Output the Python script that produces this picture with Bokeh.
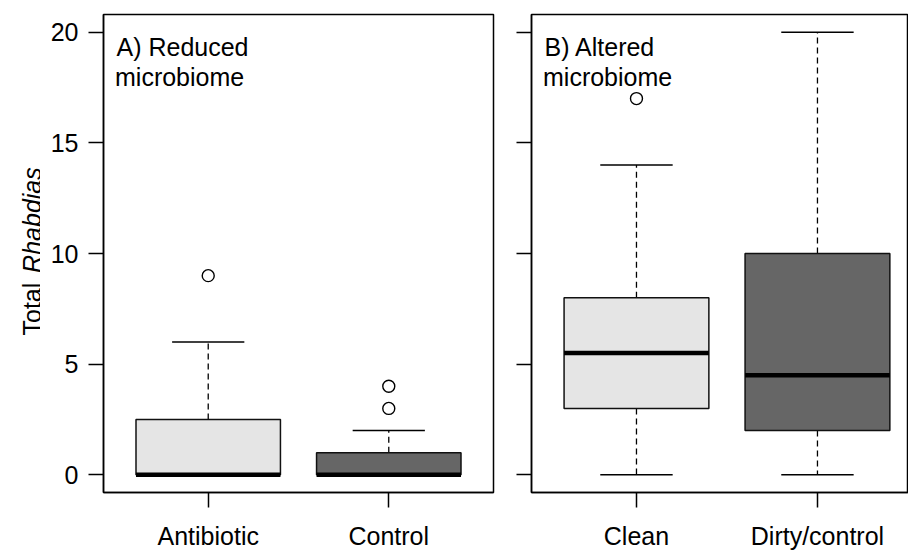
import math
from bokeh.plotting import figure
from bokeh.models import Label, FixedTicker, Range1d
from bokeh.layouts import row
from bokeh.embed import file_html
from bokeh.resources import INLINE

# ---------------- data ----------------
groups_a = ["Antibiotic", "Control"]
lower_a = [0, 0]
q1_a = [0, 0]
median_a = [0, 0]
q3_a = [2.5, 1]
upper_a = [6, 2]
outliers_a = [[9], [3, 4]]

groups_b = ["Clean", "Dirty/control"]
lower_b = [0, 0]
q1_b = [3, 2]
median_b = [5.5, 4.5]
q3_b = [8, 10]
upper_b = [14, 20]
outliers_b = [[17], []]

title_a = ["A) Reduced", "microbiome"]
title_b = ["B) Altered", "microbiome"]
y_ticks = [0, 5, 10, 15, 20]
y_title = ["Total", "Rhabdias"]
fill_colors = ["#E5E5E5", "#666666"]

FONT = "Liberation Sans"
FS = "25px"
H = 552
TOP = 14
BOTTOM = 57
Y0, Y1 = -0.8, 20.8
X0 = 0.42


def make_panel(groups, lower, q1, med, q3, upper, outs, title, width, x_end,
               b_left, b_right, show_ylabels):
    p = figure(width=width, height=H, x_range=Range1d(X0, x_end),
               y_range=Range1d(Y0, Y1), output_backend="svg",
               toolbar_location=None, min_border_left=b_left,
               min_border_right=b_right, min_border_top=TOP,
               min_border_bottom=BOTTOM)
    p.xgrid.visible = False
    p.ygrid.visible = False
    p.outline_line_color = "black"
    p.outline_line_width = 1.5
    p.outline_line_alpha = 1.0
    p.background_fill_color = "white"
    p.border_fill_color = "white"

    frame_w = width - b_left - b_right
    frame_h = H - TOP - BOTTOM

    def x_of(px):
        return X0 + px / frame_w * (x_end - X0)

    def y_of(py):
        return Y1 - py / frame_h * (Y1 - Y0)

    xs = [i + 1 for i in range(len(groups))]

    # whiskers
    p.segment(x0=xs, y0=q3, x1=xs, y1=upper, line_color="black",
              line_width=1.3, line_dash="6 4")
    p.segment(x0=xs, y0=q1, x1=xs, y1=lower, line_color="black",
              line_width=1.3, line_dash="6 4")
    # caps
    p.segment(x0=[x - 0.2 for x in xs], y0=upper, x1=[x + 0.2 for x in xs],
              y1=upper, line_color="black", line_width=1.5)
    p.segment(x0=[x - 0.2 for x in xs], y0=lower, x1=[x + 0.2 for x in xs],
              y1=lower, line_color="black", line_width=1.5)
    # boxes
    p.quad(left=[x - 0.4 for x in xs], right=[x + 0.4 for x in xs],
           bottom=q1, top=q3, fill_color=fill_colors, line_color="#111111",
           line_width=1.5)
    # medians
    p.segment(x0=[x - 0.4 for x in xs], y0=med, x1=[x + 0.4 for x in xs],
              y1=med, line_color="black", line_width=4.5, line_cap="butt")
    # outliers
    ox, oy = [], []
    for x, vals in zip(xs, outs):
        for v in vals:
            ox.append(x)
            oy.append(v)
    if ox:
        p.scatter(x=ox, y=oy, marker="circle", size=12, fill_alpha=0,
                  line_color="black", line_width=1.4)

    # x axis with category names
    p.xaxis.ticker = FixedTicker(ticks=xs)
    p.xaxis.major_label_overrides = {x: g for x, g in zip(xs, groups)}
    p.xaxis.major_tick_out = 15
    p.xaxis.major_tick_in = 0
    p.xaxis.minor_tick_line_color = None
    p.xaxis.major_tick_line_width = 1.5
    p.xaxis.major_tick_line_color = "black"
    p.xaxis.axis_line_color = "black"
    p.xaxis.axis_line_width = 1.5
    p.xaxis.major_label_text_font = FONT
    p.xaxis.major_label_text_font_size = FS
    p.xaxis.major_label_text_color = "black"
    p.xaxis.major_label_standoff = 14

    p.yaxis.ticker = FixedTicker(ticks=y_ticks)
    p.yaxis.major_tick_out = 15
    p.yaxis.major_tick_in = 0
    p.yaxis.minor_tick_line_color = None
    p.yaxis.major_tick_line_width = 1.5
    p.yaxis.major_tick_line_color = "black"
    p.yaxis.axis_line_color = "black"
    p.yaxis.axis_line_width = 1.5
    p.yaxis.major_label_text_font = FONT
    p.yaxis.major_label_text_font_size = FS
    p.yaxis.major_label_text_color = "black"
    if show_ylabels:
        p.yaxis.major_label_standoff = 10
    else:
        p.yaxis.major_label_overrides = {t: "" for t in y_ticks}
        p.yaxis.major_label_standoff = 0

    # panel title (two lines, inside the frame)
    p.add_layout(Label(x=x_of(13), y=y_of(46.7 - TOP), text=title[0],
                       text_align="left", text_baseline="alphabetic",
                       text_font=FONT, text_font_size=FS, text_color="black"))
    p.add_layout(Label(x=x_of(11.5), y=y_of(77.3 - TOP), text=title[1],
                       text_align="left", text_baseline="alphabetic",
                       text_font=FONT, text_font_size=FS, text_color="black"))
    return p


# left strip carrying the y-axis title (mixed roman / italic);
# its frame is aligned with the panels' frames, so its y range is expressed
# in page pixels (measured upward from the bottom of the page)
LW = 40
p0 = figure(width=LW, height=H, x_range=Range1d(0, LW),
            y_range=Range1d(BOTTOM, H - TOP),
            output_backend="svg", toolbar_location=None, min_border_left=0,
            min_border_right=0, min_border_top=TOP, min_border_bottom=BOTTOM)
p0.axis.visible = False
p0.grid.visible = False
p0.outline_line_color = None
p0.border_fill_color = "white"
p0.background_fill_color = "white"
base_x = 31.7
start_y = H - 337
p0.add_layout(Label(x=base_x, y=start_y, text=y_title[0], angle=math.pi / 2,
                    text_align="left", text_baseline="alphabetic",
                    text_font=FONT, text_font_size=FS, text_color="black"))
p0.add_layout(Label(x=base_x, y=start_y + 63.0, text=y_title[1],
                    angle=math.pi / 2, text_align="left",
                    text_baseline="alphabetic", text_font=FONT,
                    text_font_size=FS, text_font_style="italic",
                    text_color="black"))

p1 = make_panel(groups_a, lower_a, q1_a, median_a, q3_a, upper_a,
                outliers_a, title_a, 470, 2.58, 103 - LW, 17, True)
p2 = make_panel(groups_b, lower_b, q1_b, median_b, q3_b, upper_b,
                outliers_b, title_b, 398, 2.503, 21, 0, False)

layout = row(p0, p1, p2)
open("out.html", "w").write(file_html(layout, INLINE))
